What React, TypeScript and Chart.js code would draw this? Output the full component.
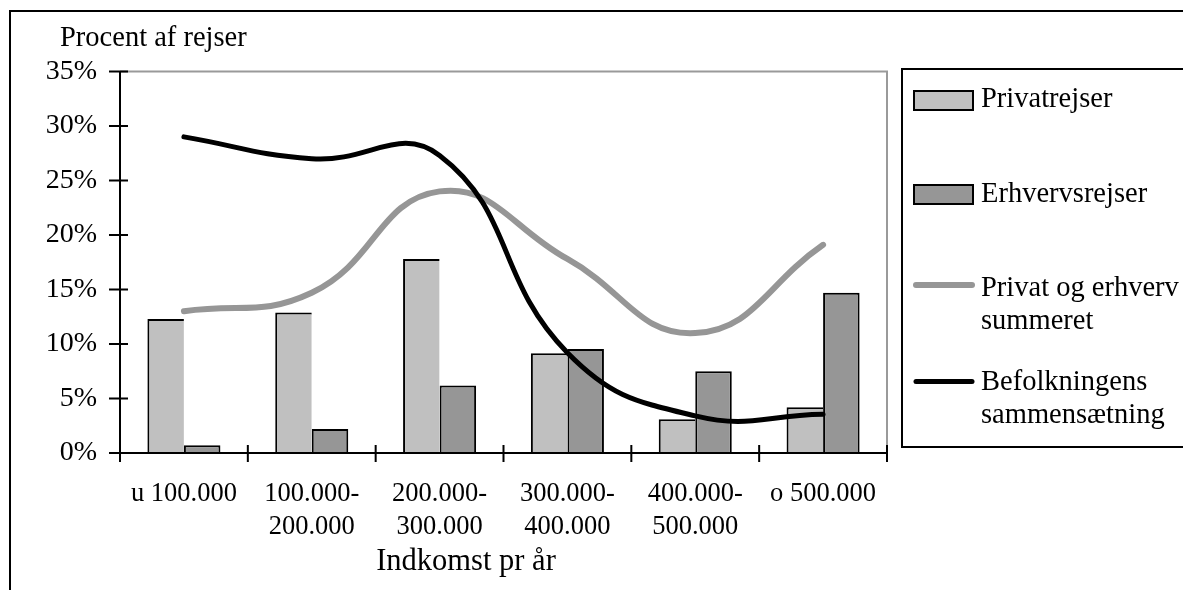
import React, { useEffect, useRef } from "react";
import { Chart, registerables } from "chart.js";

Chart.register(...registerables);

// ---- data ----
const CATEGORIES: (string | string[])[] = [
  "u 100.000",
  ["100.000-", "200.000"],
  ["200.000-", "300.000"],
  ["300.000-", "400.000"],
  ["400.000-", "500.000"],
  "o 500.000",
];
const PRIVATREJSER = [12.3, 12.9, 17.8, 9.15, 3.1, 4.2];
const ERHVERVSREJSER = [0.7, 2.2, 6.2, 9.55, 7.5, 14.7];
const SUMMERET = [13.0, 14.7, 24.0, 17.8, 11.0, 19.1];
const BEFOLKNING = [29.0, 27.0, 27.3, 9.2, 3.4, 3.55];
const Y_MIN = 0;
const Y_MAX = 35;
const Y_STEP = 5;
const SERIES_LABELS = [
  "Privatrejser",
  "Erhvervsrejser",
  "Privat og erhverv summeret",
  "Befolkningens sammensætning",
];
const LEGEND_LINES = [
  ["Privatrejser"],
  ["Erhvervsrejser"],
  ["Privat og erhverv", "summeret"],
  ["Befolkningens", "sammensætning"],
];
const Y_TITLE = "Procent af rejser";
const X_TITLE = "Indkomst pr år";

const FONT = "'Liberation Serif', 'Times New Roman', serif";
const LIGHT = "#c0c0c0";
const DARK = "#969696";

const decorPlugin = {
  id: "decor",
  beforeDatasetsDraw(chart: any) {
    const { ctx, chartArea } = chart;
    const { left, right, top, bottom } = chartArea;
    ctx.save();
    ctx.strokeStyle = "#9a9a9a";
    ctx.lineWidth = 2;
    ctx.beginPath();
    ctx.moveTo(left, top);
    ctx.lineTo(right, top);
    ctx.lineTo(right, bottom);
    ctx.stroke();
    ctx.restore();
  },
  afterDatasetsDraw(chart: any) {
    const { ctx, chartArea, scales } = chart;
    const { left, right, top, bottom } = chartArea;
    const xs = scales.x;
    const ys = scales.y;
    ctx.save();
    ctx.strokeStyle = "#000";
    ctx.lineWidth = 2;
    ctx.beginPath();
    ctx.moveTo(left, top);
    ctx.lineTo(left, bottom);
    ctx.lineTo(right, bottom);
    ctx.stroke();
    // y ticks (cross)
    ctx.beginPath();
    for (let v = Y_MIN; v <= Y_MAX; v += Y_STEP) {
      const y = ys.getPixelForValue(v);
      ctx.moveTo(left - 11, y);
      ctx.lineTo(left + 8, y);
    }
    // x ticks at category boundaries (cross)
    const n = CATEGORIES.length;
    for (let i = 0; i <= n; i++) {
      let x: number;
      if (i === 0) x = left;
      else if (i === n) x = right;
      else x = (xs.getPixelForValue(i - 1) + xs.getPixelForValue(i)) / 2;
      ctx.moveTo(x, bottom - 8);
      ctx.lineTo(x, bottom + 9);
    }
    ctx.stroke();
    ctx.restore();
  },
  afterDraw(chart: any) {
    const { ctx } = chart;
    ctx.save();
    // outer frame
    ctx.strokeStyle = "#000";
    ctx.lineWidth = 2;
    ctx.strokeRect(10, 11, 1400, 800);
    // y title
    ctx.fillStyle = "#000";
    ctx.font = `28.5px ${FONT}`;
    ctx.textBaseline = "middle";
    ctx.textAlign = "left";
    ctx.fillText(Y_TITLE, 60, 39);
    // x title
    ctx.font = `30.5px ${FONT}`;
    ctx.textAlign = "center";
    ctx.fillText(X_TITLE, 466, 562);
    // legend
    ctx.textAlign = "left";
    ctx.strokeRect(902, 69, 500, 378);
    const ds = chart.data.datasets;
    const itemY = [100, 195, 289, 383];
    const swatchY = [100.5, 194.5, 285, 381.5];
    ctx.font = `28.5px ${FONT}`;
    for (let i = 0; i < LEGEND_LINES.length; i++) {
      const d = ds[i];
      if (d.type === "line") {
        ctx.strokeStyle = d.borderColor;
        ctx.lineWidth = d.borderWidth;
        ctx.lineCap = "round";
        ctx.beginPath();
        ctx.moveTo(916, swatchY[i]);
        ctx.lineTo(972, swatchY[i]);
        ctx.stroke();
      } else {
        ctx.fillStyle = d.backgroundColor;
        ctx.fillRect(914, swatchY[i] - 9.5, 59, 19);
        ctx.strokeStyle = "#000";
        ctx.lineWidth = 2;
        ctx.strokeRect(914, swatchY[i] - 9.5, 59, 19);
      }
      ctx.fillStyle = "#000";
      LEGEND_LINES[i].forEach((line, j) => {
        ctx.fillText(line, 981, itemY[i] + j * 33);
      });
    }
    ctx.restore();
  },
};

export default function App() {
  const canvasRef = useRef<HTMLCanvasElement | null>(null);

  useEffect(() => {
    const canvas = canvasRef.current;
    if (!canvas) return;
    const chart = new Chart(canvas, {
      type: "bar",
      data: {
        labels: CATEGORIES as any,
        datasets: [
          {
            type: "bar",
            label: SERIES_LABELS[0],
            data: PRIVATREJSER,
            backgroundColor: LIGHT,
            borderColor: "#000",
            borderWidth: { top: 2, left: 2, right: 0, bottom: 0 },
            borderSkipped: false,
            categoryPercentage: 2 / 3.5,
            barPercentage: 1,
            order: 3,
          },
          {
            type: "bar",
            label: SERIES_LABELS[1],
            data: ERHVERVSREJSER,
            backgroundColor: DARK,
            borderColor: "#000",
            borderWidth: { top: 2, left: 2, right: 2, bottom: 0 },
            borderSkipped: false,
            categoryPercentage: 2 / 3.5,
            barPercentage: 1,
            order: 3,
          },
          {
            type: "line",
            label: SERIES_LABELS[2],
            data: SUMMERET,
            borderColor: DARK,
            backgroundColor: DARK,
            borderWidth: 6,
            borderCapStyle: "round",
            pointRadius: 0,
            tension: 0.45,
            fill: false,
            order: 2,
          },
          {
            type: "line",
            label: SERIES_LABELS[3],
            data: BEFOLKNING,
            borderColor: "#000",
            backgroundColor: "#000",
            borderWidth: 5,
            borderCapStyle: "round",
            pointRadius: 0,
            tension: 0.45,
            fill: false,
            order: 1,
          },
        ] as any,
      },
      options: {
        responsive: false,
        animation: false,
        devicePixelRatio: 1,
        layout: { padding: { left: 0, top: 71.5, right: 296, bottom: 0 } },
        plugins: {
          legend: { display: false },
          tooltip: { enabled: false },
          title: { display: false },
        },
        scales: {
          x: {
            type: "category",
            grid: { display: false, drawTicks: false },
            border: { display: false },
            ticks: {
              color: "#000",
              font: { family: FONT, size: 26.5, lineHeight: 32.5 / 26.5 },
              padding: 25,
              maxRotation: 0,
              minRotation: 0,
              autoSkip: false,
            },
            afterFit(scale: any) {
              scale.height = 137;
            },
          },
          y: {
            min: Y_MIN,
            max: Y_MAX,
            grid: { display: false, drawTicks: false },
            border: { display: false },
            ticks: {
              stepSize: Y_STEP,
              color: "#000",
              font: { family: FONT, size: 28 },
              padding: 23,
              callback: (v: any) => `${v}%`,
            },
            afterFit(scale: any) {
              scale.width = 120;
            },
          },
        },
      } as any,
      plugins: [decorPlugin],
    });
    return () => chart.destroy();
  }, []);

  return (
    <div
      style={{
        position: "fixed",
        left: 0,
        top: 0,
        width: 1183,
        height: 590,
        overflow: "hidden",
        background: "#fff",
      }}
    >
      <canvas ref={canvasRef} width={1183} height={590} style={{ display: "block" }} />
    </div>
  );
}
